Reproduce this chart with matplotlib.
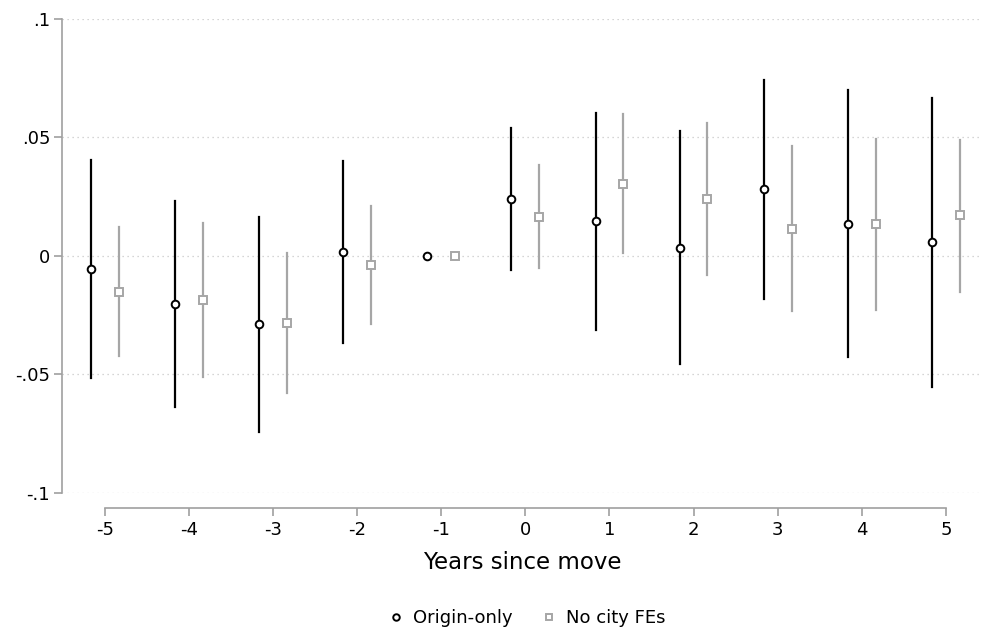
import numpy as np
import matplotlib.pyplot as plt
from matplotlib.ticker import FixedLocator

plt.rcParams['font.family'] = ['DejaVu Sans']

# event-time estimates
years = [-5, -4, -3, -2, -1, 0, 1, 2, 3, 4, 5]

origin_coef = [-0.0054, -0.0204, -0.0285, 0.0018, 0.0, 0.0240, 0.0146, 0.0035, 0.0281, 0.0136, 0.0058]
origin_hi = [0.0405, 0.0231, 0.0165, 0.0402, 0.0, 0.0540, 0.0605, 0.0526, 0.0744, 0.0699, 0.0668]
origin_lo = [-0.0513, -0.0639, -0.0741, -0.0366, 0.0, -0.0059, -0.0314, -0.0456, -0.0183, -0.0428, -0.0554]

nofe_coef = [-0.0151, -0.0186, -0.0284, -0.0037, 0.0, 0.0166, 0.0305, 0.0240, 0.0115, 0.0134, 0.0172]
nofe_hi = [0.0121, 0.0141, 0.0011, 0.0212, 0.0, 0.0384, 0.0598, 0.0563, 0.0464, 0.0494, 0.0491]
nofe_lo = [-0.0422, -0.0512, -0.0579, -0.0287, 0.0, -0.0052, 0.0011, -0.0080, -0.0233, -0.0226, -0.0151]

yticks = [-0.1, -0.05, 0, 0.05, 0.1]
ylabels = ['-.1', '-.05', '0', '.05', '.1']

black = '#000000'
grey = '#a6a6a6'
axcol = '#a0a0a0'

fig = plt.figure(figsize=(9.82, 6.33), dpi=100)
ax = fig.add_axes([0.0631, 0.2212, 0.9369, 0.7488])

x = np.array(years, dtype=float)
shift = 0.165

# confidence bars (skip the omitted year)
for xi, lo, hi in zip(x - shift, origin_lo, origin_hi):
    if hi != lo:
        ax.plot([xi, xi], [lo, hi], color=black, lw=1.6, zorder=2)
for xi, lo, hi in zip(x + shift, nofe_lo, nofe_hi):
    if hi != lo:
        ax.plot([xi, xi], [lo, hi], color=grey, lw=1.6, zorder=2)

ax.plot(x - shift, origin_coef, 'o', ls='none', mfc='white', mec=black,
        mew=1.4, ms=5.5, zorder=3, label='Origin-only')
ax.plot(x + shift, nofe_coef, 's', ls='none', mfc='white', mec=grey,
        mew=1.4, ms=5.5, zorder=3, label='No city FEs')

ax.set_xlim(-5.51, 5.43)
ax.set_ylim(-0.1, 0.1)

ax.yaxis.set_major_locator(FixedLocator(yticks))
ax.set_yticklabels(ylabels)
ax.set_xticks(years)
ax.set_xticklabels([str(v) for v in years])

for yv in yticks:
    ax.axhline(yv, color='#c8c8c8', lw=0.9, ls=(0, (1, 3)), zorder=1)

for s in ['top', 'right']:
    ax.spines[s].set_visible(False)
ax.spines['left'].set_color(axcol)
ax.spines['left'].set_linewidth(1.2)
ax.spines['left'].set_bounds(-0.1, 0.1)
ax.spines['bottom'].set_color(axcol)
ax.spines['bottom'].set_linewidth(1.2)
ax.spines['bottom'].set_position(('outward', 10.5))
ax.spines['bottom'].set_bounds(-5, 5)

ax.tick_params(axis='both', colors=axcol, labelcolor='black', labelsize=13,
               length=6, width=1.2)
ax.tick_params(axis='x', pad=3.5)
ax.tick_params(axis='y', pad=2.5)

ax.set_xlabel('Years since move', fontsize=16.5, labelpad=9)

fig.legend(loc='center', bbox_to_anchor=(526 / 982, 1 - 618 / 633), ncol=2, frameon=False,
           fontsize=13, handletextpad=0.45, columnspacing=1.5, handlelength=1.0,
           markerscale=0.85)

fig.savefig('out.png', dpi=100)
